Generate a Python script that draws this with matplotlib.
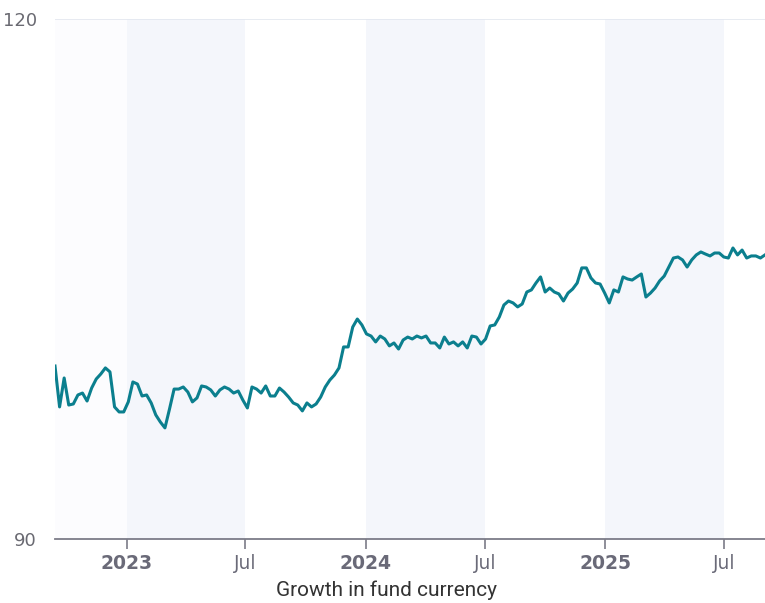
import numpy as np
import pandas as pd
import matplotlib
matplotlib.use('Agg')
import matplotlib.pyplot as plt
import matplotlib.dates as mdates

# weekly fund growth values
start_date = '2022-09-13'
values = [
    99.98, 97.62, 99.29, 97.73, 97.79, 98.31, 98.42, 97.96, 98.71, 99.23,
    99.52, 99.87, 99.64, 97.62, 97.33, 97.33, 97.91, 99.06, 98.94, 98.25,
    98.31, 97.85, 97.16, 96.75, 96.41, 97.50,
    98.65, 98.65, 98.77, 98.48, 97.91, 98.14, 98.83, 98.77, 98.60, 98.25,
    98.60, 98.77, 98.65, 98.42, 98.54, 98.02, 97.56, 98.77, 98.65, 98.42,
    98.83, 98.25, 98.25, 98.71,
    98.48, 98.19, 97.85, 97.73, 97.39, 97.85, 97.62, 97.79, 98.19, 98.77,
    99.17, 99.46, 99.87, 101.08, 101.08, 102.23, 102.69, 102.35, 101.83, 101.71,
    101.37, 101.71, 101.54, 101.14, 101.31, 100.96, 101.48, 101.65,
    101.54, 101.71, 101.60, 101.71, 101.31, 101.31, 101.02, 101.65, 101.25, 101.37,
    101.14, 101.37, 101.02, 101.71, 101.65, 101.25, 101.54, 102.29, 102.35, 102.81,
    103.50, 103.73, 103.62, 103.39, 103.56, 104.25, 104.37,
    104.77, 105.12, 104.25, 104.48, 104.25, 104.14, 103.73, 104.19, 104.42, 104.77,
    105.64, 105.64, 105.06, 104.77, 104.71, 104.19, 103.62, 104.37, 104.25, 105.12,
    105.00, 104.94, 105.12, 105.29, 103.96,
    104.19, 104.48, 104.89, 105.17, 105.69, 106.21, 106.27, 106.10, 105.69, 106.10,
    106.39, 106.56, 106.44, 106.33, 106.50, 106.50, 106.27, 106.21, 106.79, 106.39,
    106.67, 106.21, 106.33, 106.33, 106.21, 106.39,
]
dates = pd.date_range(start_date, periods=len(values), freq='7D')

shade_spans = [('2023-01-01', '2023-07-01'), ('2024-01-01', '2024-07-01'), ('2025-01-01', '2025-07-01')]
tick_dates = ['2023-01-01', '2023-07-01', '2024-01-01', '2024-07-01', '2025-01-01', '2025-07-01']
tick_labels = ['2023', 'Jul', '2024', 'Jul', '2025', 'Jul']
y_ticks = [90, 120]

fig = plt.figure(figsize=(7.65, 6.03), dpi=100)
ax = fig.add_axes([55 / 765, 64 / 603, 710 / 765, 520 / 603])

ax.axvspan(dates[0], pd.Timestamp('2023-01-01'), color='#fcfcfe', lw=0, zorder=0)
for a, b in shade_spans:
    ax.axvspan(pd.Timestamp(a), pd.Timestamp(b), color='#f4f6fb', lw=0, zorder=0)

ax.axhline(120, color='#e3e7ef', lw=1.2, zorder=1)
ax.plot(dates, values, color='#0b7f8e', lw=2.2, zorder=3, solid_joinstyle='round')

ax.set_xlim(dates[0], dates[-1])
ax.set_ylim(90, 120)

for s in ['top', 'right', 'left']:
    ax.spines[s].set_visible(False)
ax.spines['bottom'].set_color('#7c7c88')
ax.spines['bottom'].set_linewidth(1.3)

ax.set_yticks(y_ticks)
ax.set_yticklabels([str(v) for v in y_ticks])
ax.tick_params(axis='y', length=0, pad=13, labelsize=13, labelcolor='#6a6a72')

ax.set_xticks([pd.Timestamp(d) for d in tick_dates])
ax.set_xticklabels(tick_labels)
ax.tick_params(axis='x', length=7, width=1.2, color='#7c7c88', pad=4,
               labelsize=13.5, labelcolor='#6a6a78')
for lab in ax.get_xticklabels():
    if lab.get_text() != 'Jul':
        lab.set_fontweight('bold')

fig.text(387 / 765, 1 - 590 / 603, 'Growth in fund currency', fontsize=15, color='#333333',
         family='Roboto', ha='center', va='center')

fig.savefig('out.png', dpi=100)
